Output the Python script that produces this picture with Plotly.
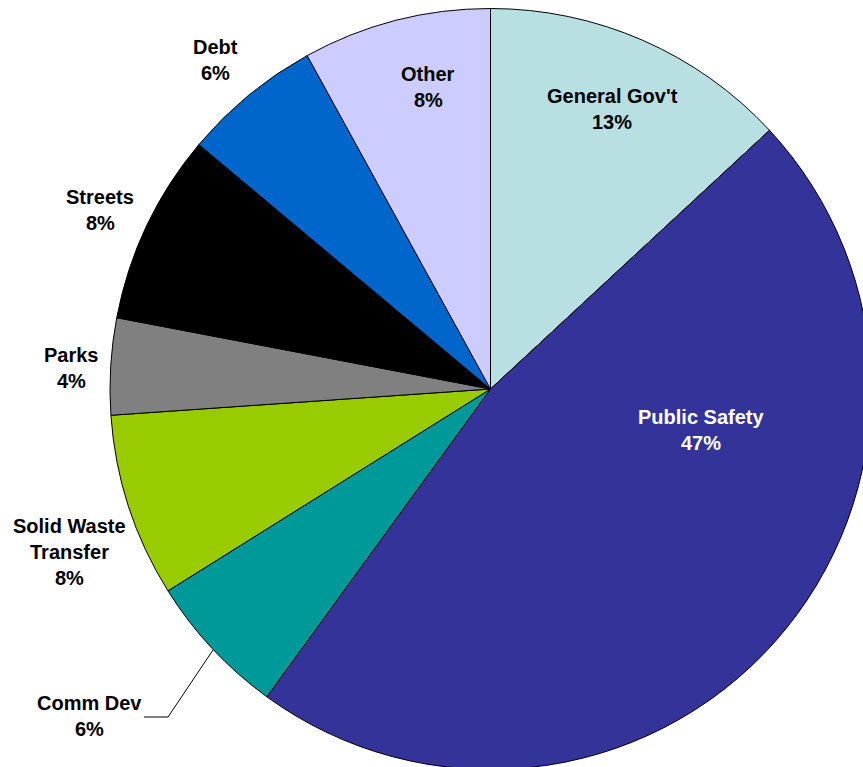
import plotly.graph_objects as go

# Data (clockwise from 12 o'clock)
categories = ["General Gov't", "Public Safety", "Comm Dev", "Solid Waste Transfer",
              "Parks", "Streets", "Debt", "Other"]
shares = [13.1, 46.9, 6.1, 7.8, 4.1, 8.1, 5.9, 8.0]
colors = ["#B8E0E2", "#333399", "#009999", "#99CC00",
          "#808080", "#000000", "#0066CC", "#CCCCFF"]

# Label lines (display text) and their placement (pixels in the canvas)
label_lines = [["General Gov't"], ["Public Safety"], ["Comm Dev"], ["Solid Waste", "Transfer"],
               ["Parks"], ["Streets"], ["Debt"], ["Other"]]
label_pos = [(612, 96), (701, 417), (89, 703), (69, 526), (71, 355), (100, 197), (215, 47), (428, 74)]
label_color = ["black", "white", "black", "black", "black", "black", "black", "black"]

# canvas slightly larger than the window so the pie is cropped at right/bottom like the original
W, H = 871, 778
LINE = 26

fig = go.Figure(go.Pie(
    labels=categories,
    values=shares,
    sort=False,
    direction="clockwise",
    rotation=0,
    marker=dict(colors=colors, line=dict(color="black", width=1)),
    textinfo="none",
    hoverinfo="label+percent",
    showlegend=False,
    domain=dict(x=[110 / W, 1], y=[0, 1]),
))

total = sum(shares)
annotations = []
for lines, (px, py), col, v in zip(label_lines, label_pos, label_color, shares):
    pct = f"{round(v / total * 100):d}%"
    all_lines = lines + [pct]
    for i, t in enumerate(all_lines):
        annotations.append(dict(
            x=px / W, y=1 - (py + i * LINE) / H, xref="paper", yref="paper",
            text=f"<b>{t}</b>", showarrow=False, xanchor="center", yanchor="middle",
            font=dict(family="Liberation Sans, Arial, sans-serif", size=20, color=col),
        ))

# leader line for Comm Dev
fig.add_shape(type="path",
              path=f"M {213/W} {1-650/H} L {168/W} {1-717/H} L {144/W} {1-717/H}",
              xref="paper", yref="paper", line=dict(color="black", width=1))

fig.update_layout(
    width=W, height=H,
    margin=dict(l=0, r=0, t=0, b=0),
    paper_bgcolor="white", plot_bgcolor="white",
    annotations=annotations,
)

fig.write_html("out.html")
